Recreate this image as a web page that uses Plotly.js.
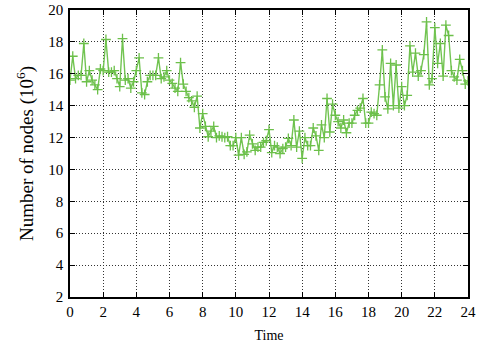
<!DOCTYPE html>
<html>
<head>
<meta charset="utf-8">
<script src="https://cdn.plot.ly/plotly-3.0.1.min.js"></script>
<style>html,body{margin:0;padding:0;background:#fff;}#chart{width:486px;height:345px;}</style>
</head>
<body>
<div id="chart"></div>
<script>
// Samples every 10 minutes (1/6 h) over 24 hours
const sampleHours = 1 / 6;
const nodes = [
  15.6, 17.1, 15.7, 15.9, 15.9, 17.9, 15.5, 16.2, 15.6, 15.3, 15.0, 16.3,
  16.2, 18.15, 16.1, 16.1, 16.2, 15.7, 15.2, 18.2, 15.6, 15.7, 15.1, 15.5,
  16.2, 17.0, 14.8, 14.7, 15.5, 15.9, 15.9, 15.9, 17.0, 15.7, 15.8, 16.2,
  15.6, 15.4, 15.1, 14.9, 16.7, 15.35, 14.9, 14.5, 14.3, 13.9, 14.6, 12.6,
  13.5, 12.7, 12.05, 12.4, 12.7, 12.0, 12.1, 12.05, 12.0, 12.05, 11.5, 11.5,
  12.0, 10.9, 12.0, 10.95, 11.1, 12.15, 11.6, 11.2, 11.4, 11.4, 11.7, 11.8,
  12.5, 11.05, 11.5, 11.4, 11.0, 11.3, 11.4, 11.95, 11.5, 13.1, 11.4, 12.4,
  10.7, 12.0, 11.5, 11.5, 12.6, 12.1, 11.2, 12.8, 12.0, 14.45, 12.35, 14.1,
  13.4, 13.0, 12.6, 13.1, 12.3, 12.9, 12.9, 13.4, 13.7, 13.85, 14.45, 12.9,
  12.9, 13.6, 13.5, 13.4, 15.3, 17.5, 14.55, 13.8, 16.65, 14.0, 16.55, 13.85,
  15.2, 14.0, 14.65, 17.75, 16.1, 17.3, 15.85, 16.2, 17.2, 19.25, 15.3, 15.7,
  18.9, 16.65, 17.9, 15.85, 19.05, 18.4, 16.2, 15.8, 15.6, 16.9, 16.2, 15.35,
  15.55
];
const times = nodes.map((_, i) => i * sampleHours);
const xTicks = [0, 2, 4, 6, 8, 10, 12, 14, 16, 18, 20, 22, 24];
const yTicks = [2, 4, 6, 8, 10, 12, 14, 16, 18, 20];

const trace = {
  x: times, y: nodes, type: 'scatter', mode: 'lines+markers',
  line: {color: '#72c452', width: 1.4},
  marker: {symbol: 'cross-thin-open', size: 7, color: '#6cc04a', line: {color: '#6cc04a', width: 1.3}},
  hoverinfo: 'skip'
};

const axisCommon = {
  showline: true, mirror: 'ticks', linecolor: '#000', linewidth: 1.8,
  ticks: 'inside', ticklen: 5, tickcolor: '#000', tickwidth: 1,
  showgrid: true, gridcolor: '#333', gridwidth: 1, griddash: '1px,2px',
  zeroline: false, tickfont: {family: 'Liberation Serif', size: 15, color: '#000'}
};

const layout = {
  width: 486, height: 345,
  margin: {l: 70, r: 18, t: 10, b: 48},
  paper_bgcolor: '#fff', plot_bgcolor: '#fff',
  showlegend: false,
  font: {family: 'Liberation Serif', color: '#000'},
  xaxis: Object.assign({}, axisCommon, {
    range: [0, 24], tickvals: xTicks, ticktext: xTicks.map(String),
    title: {text: 'Time', font: {family: 'Liberation Serif', size: 14}, standoff: 11}
  }),
  yaxis: Object.assign({}, axisCommon, {
    range: [2, 20], tickvals: yTicks, ticktext: yTicks.map(String), ticklabelstandoff: 2,
    title: {text: 'Number of nodes (10<sup>6</sup>)', font: {family: 'Liberation Serif', size: 19}, standoff: 9}
  })
};

Plotly.newPlot('chart', [trace], layout, {staticPlot: true, displayModeBar: false});
</script>
</body>
</html>
